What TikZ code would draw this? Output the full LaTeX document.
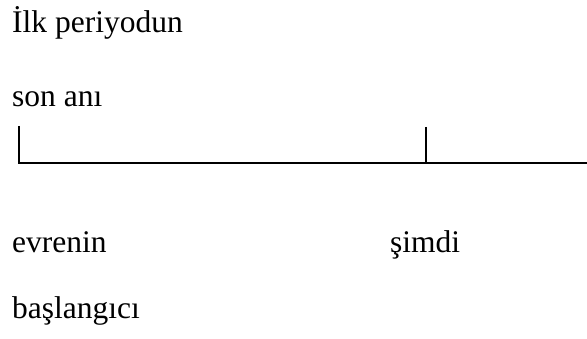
\documentclass[tikz,border=0pt]{standalone}
\usepackage{fontspec}
\setmainfont{Liberation Serif}
\usepackage{tikz}
\usetikzlibrary{positioning,calc}

\begin{document}
\begin{tikzpicture}[
    x=1pt, y=1pt,
    lbl/.style={anchor=base west, inner sep=0pt, font=\fontsize{31.5}{36}\selectfont},
    axis/.style={line width=1.5pt, draw=black}
]
    \useasboundingbox (0,0) rectangle (587,338);
    % time line
    \coordinate (t0) at (19,175);
    \coordinate (t1) at (426,175);
    \coordinate (tend) at (587,175);
    \coordinate (t0top) at (19,212);
    \coordinate (t1top) at (426,211);
    \draw [axis] (t0top) -- (t0) -- (tend);
    \draw [axis] (t1top) -- (t1);
    % labels
    \node [lbl] (ilk) at (12,305) {İlk periyodun};
    \node [lbl] (son) at (12,231) {son anı};
    \node [lbl] (evren) at (12,85) {evrenin};
    \node [lbl] (bas) at (12,20) {başlangıcı};
    \node [lbl] (simdi) at (390,85) {şimdi};
\end{tikzpicture}
\end{document}
